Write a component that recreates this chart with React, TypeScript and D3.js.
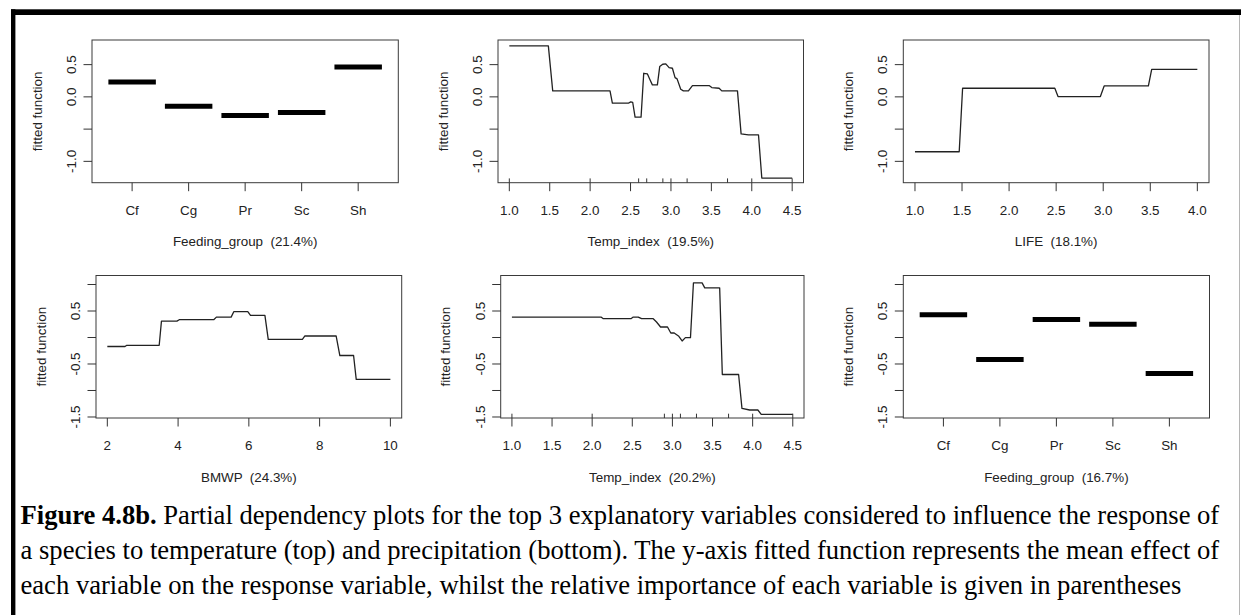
import React, { useLayoutEffect, useRef, useState } from 'react';
import * as d3 from 'd3';

// ---------- data ----------
const feedingGroups = ['Cf', 'Cg', 'Pr', 'Sc', 'Sh'];
const feedingTopValues = [0.232, -0.144, -0.289, -0.243, 0.464];
const feedingBottomValues = [0.43, -0.415, 0.342, 0.248, -0.68];

const tempTopX = [1.0, 1.483, 1.537, 2.246, 2.275, 2.473, 2.502, 2.527, 2.556, 2.63, 2.663, 2.709, 2.742, 2.77, 2.832, 2.861, 2.898, 2.936, 2.977, 3.018, 3.051, 3.076, 3.121, 3.154, 3.216, 3.266, 3.472, 3.505, 3.596, 3.629, 3.823, 3.868, 3.959, 4.083, 4.124, 4.5];
const tempTopY = [0.79, 0.79, 0.093, 0.093, -0.098, -0.098, -0.077, -0.087, -0.315, -0.315, 0.366, 0.356, 0.263, 0.186, 0.186, 0.47, 0.506, 0.511, 0.454, 0.444, 0.299, 0.279, 0.119, 0.093, 0.093, 0.175, 0.175, 0.144, 0.134, 0.093, 0.093, -0.573, -0.588, -0.588, -1.259, -1.259];
const tempTopRug = [1.0, 2.0, 2.6, 2.7, 2.9, 3.0, 3.2, 3.7, 4.0, 4.5];

const lifeX = [1.0, 1.47, 1.506, 2.486, 2.52, 2.97, 3.01, 3.48, 3.515, 4.0];
const lifeY = [-0.851, -0.851, 0.134, 0.134, 0.005, 0.005, 0.17, 0.17, 0.428, 0.428];

const bmwpX = [2.0, 2.5, 2.55, 3.466, 3.53, 3.967, 4.033, 5.007, 5.083, 5.499, 5.574, 5.97, 6.047, 6.454, 6.548, 7.513, 7.579, 8.468, 8.572, 8.96, 9.035, 10.0];
const bmwpY = [-0.17, -0.17, -0.147, -0.147, 0.31, 0.31, 0.336, 0.336, 0.385, 0.385, 0.487, 0.487, 0.417, 0.417, -0.034, -0.034, 0.028, 0.028, -0.34, -0.34, -0.79, -0.79];

const tempBottomX = [1.0, 2.11, 2.139, 2.483, 2.512, 2.574, 2.616, 2.761, 2.802, 2.83, 2.852, 2.939, 2.98, 3.022, 3.08, 3.121, 3.162, 3.225, 3.262, 3.37, 3.403, 3.589, 3.622, 3.825, 3.867, 3.962, 4.065, 4.107, 4.5];
const tempBottomY = [0.386, 0.386, 0.355, 0.355, 0.386, 0.386, 0.355, 0.355, 0.292, 0.24, 0.198, 0.198, 0.085, 0.085, 0.023, -0.065, -0.003, -0.003, 1.03, 1.03, 0.937, 0.937, -0.698, -0.698, -1.337, -1.368, -1.368, -1.45, -1.45];
const tempBottomRug = [1.0, 2.0, 2.9, 3.0, 3.1, 3.3, 3.7, 4.0, 4.5];

const topYTicks = [0.5, 0.0, -0.5, -1.0];
const topYLabels = ['0.5', '0.0', '', '-1.0'];
const bottomYTicks = [1.0, 0.5, 0.0, -0.5, -1.0, -1.5];
const bottomYLabels = ['', '0.5', '', '-0.5', '', '-1.5'];

const tempTicks = [1.0, 1.5, 2.0, 2.5, 3.0, 3.5, 4.0, 4.5];
const tempTickLabels = ['1.0', '1.5', '2.0', '2.5', '3.0', '3.5', '4.0', '4.5'];
const lifeTicks = [1.0, 1.5, 2.0, 2.5, 3.0, 3.5, 4.0];
const lifeTickLabels = ['1.0', '1.5', '2.0', '2.5', '3.0', '3.5', '4.0'];
const bmwpTicks = [2, 4, 6, 8, 10];
const bmwpTickLabels = ['2', '4', '6', '8', '10'];

const panelTitles = [
  'Feeding_group  (21.4%)',
  'Temp_index  (19.5%)',
  'LIFE  (18.1%)',
  'BMWP  (24.3%)',
  'Temp_index  (20.2%)',
  'Feeding_group  (16.7%)',
];

const yAxisTitle = 'fitted function';
const captionBold = 'Figure 4.8b.';
const captionLine1 = ' Partial dependency plots for the top 3 explanatory variables considered to influence the response of';
const captionLine2 = 'a species to temperature (top) and precipitation (bottom). The y-axis fitted function represents the mean effect of';
const captionLine3 = 'each variable on the response variable, whilst the relative importance of each variable is given in parentheses';

// ---------- layout ----------
const W = 1241;
const H = 615;
const FONT = '"Liberation Sans", Arial, Helvetica, sans-serif';
const FS = 13.4;
const TXT = '#222';

type Box = { x0: number; x1: number; y0: number; y1: number };

function Panel(props: {
  box: Box;
  xDomain: [number, number];
  yDomain: [number, number];
  xTicks: number[];
  xTickLabels: string[];
  yTicks: number[];
  yTickLabels: string[];
  title: string;
  lineX?: number[];
  lineY?: number[];
  rug?: number[];
  bars?: number[];
}) {
  const { box, xDomain, yDomain } = props;
  const xs = d3.scaleLinear().domain(xDomain).range([box.x0, box.x1]);
  const ys = d3.scaleLinear().domain(yDomain).range([box.y1, box.y0]);
  const tick = 8.5;
  let path: string | null = null;
  if (props.lineX && props.lineY) {
    const lx = props.lineX;
    const ly = props.lineY;
    const gen = d3
      .line<number>()
      .x((_, i) => xs(lx[i]))
      .y((_, i) => ys(ly[i]));
    path = gen(lx);
  }
  const cx = (box.x0 + box.x1) / 2;
  return (
    <g>
      <rect x={box.x0} y={box.y0} width={box.x1 - box.x0} height={box.y1 - box.y0} fill="none" stroke="#3a3a3a" strokeWidth={1} />
      {props.xTicks.map((t, i) => (
        <g key={'xt' + i}>
          <line x1={xs(t)} x2={xs(t)} y1={box.y1} y2={box.y1 + tick} stroke="#333" strokeWidth={1} />
          <text x={xs(t)} y={box.y1 + 32} textAnchor="middle" fontFamily={FONT} fontSize={FS} fill={TXT}>
            {props.xTickLabels[i]}
          </text>
        </g>
      ))}
      {props.yTicks.map((t, i) => (
        <g key={'yt' + i}>
          <line x1={box.x0 - tick} x2={box.x0} y1={ys(t)} y2={ys(t)} stroke="#333" strokeWidth={1} />
          {props.yTickLabels[i] ? (
            <text
              transform={`translate(${box.x0 - 16},${ys(t)}) rotate(-90)`}
              textAnchor="middle"
              fontFamily={FONT}
              fontSize={FS}
              fill={TXT}
            >
              {props.yTickLabels[i]}
            </text>
          ) : null}
        </g>
      ))}
      {(props.rug || []).map((r, i) => (
        <line key={'r' + i} x1={xs(r)} x2={xs(r)} y1={box.y1} y2={box.y1 - 4.3} stroke="#333" strokeWidth={1} />
      ))}
      {path ? <path d={path} fill="none" stroke="#222" strokeWidth={1.3} strokeLinejoin="round" /> : null}
      {(props.bars || []).map((v, i) => (
        <line key={'b' + i} x1={xs(i + 1 - 0.42)} x2={xs(i + 1 + 0.42)} y1={ys(v)} y2={ys(v)} stroke="#000" strokeWidth={5} />
      ))}
      <text x={cx} y={box.y1 + 63.5} textAnchor="middle" fontFamily={FONT} fontSize={FS} fill={TXT} style={{ whiteSpace: 'pre' }}>
        {props.title}
      </text>
      <text
        transform={`translate(${box.x0 - 50.5},${(box.y0 + box.y1) / 2}) rotate(-90)`}
        textAnchor="middle"
        fontFamily={FONT}
        fontSize={FS}
        fill={TXT}
      >
        {yAxisTitle}
      </text>
    </g>
  );
}

const topY: [number, number] = [-1.331, 0.882];
const botY: [number, number] = [-1.519, 1.17];
const catDomain: [number, number] = [0.29, 5.71];

export default function App() {
  const l1 = useRef<SVGTextElement>(null);
  const l2 = useRef<SVGTextElement>(null);
  const l3 = useRef<SVGTextElement>(null);
  const [cap, setCap] = useState<{ s: number; ws: [number, number] }>({ s: 1, ws: [0, 0] });
  const capX = 20.5;
  const capRight = 1219.5;
  const line3Right = 1181.5;
  useLayoutEffect(() => {
    const e3 = l3.current;
    if (!e3) return;
    const len3 = e3.getComputedTextLength();
    const s = len3 > 0 ? (line3Right - capX) / len3 : 1;
    const target = (capRight - capX) / s;
    const ws: [number, number] = [0, 0];
    [l1, l2].forEach((r, k) => {
      const el = r.current;
      if (!el) return;
      const len = el.getComputedTextLength();
      const txt = el.textContent || '';
      const spaces = (txt.match(/ /g) || []).length;
      ws[k] = spaces ? (target - len) / spaces : 0;
    });
    setCap({ s, ws });
  }, []);

  const serif = '"Liberation Serif", "Times New Roman", Times, serif';
  const capFS = 22;
  const baselines = [524, 559, 593.5];

  return (
    <svg width={W} height={H} style={{ position: 'absolute', left: 0, top: 0, background: '#fff' }}>
      <rect x={0} y={0} width={W} height={H} fill="#fff" />
      {/* frame */}
      <rect x={11} y={9.3} width={W - 11} height={5.7} fill="#000" />
      <rect x={11} y={9.3} width={4.4} height={H - 9.3} fill="#000" />
      <line x1={1239.5} x2={1239.5} y1={15} y2={H} stroke="#b5b5b5" strokeWidth={1} />

      <Panel
        box={{ x0: 92, x1: 398.3, y0: 40, y1: 182.7 }}
        xDomain={catDomain}
        yDomain={topY}
        xTicks={[1, 2, 3, 4, 5]}
        xTickLabels={feedingGroups}
        yTicks={topYTicks}
        yTickLabels={topYLabels}
        title={panelTitles[0]}
        bars={feedingTopValues}
      />
      <Panel
        box={{ x0: 498, x1: 803.5, y0: 40, y1: 182.7 }}
        xDomain={[0.86, 4.64]}
        yDomain={topY}
        xTicks={tempTicks}
        xTickLabels={tempTickLabels}
        yTicks={topYTicks}
        yTickLabels={topYLabels}
        title={panelTitles[1]}
        lineX={tempTopX}
        lineY={tempTopY}
        rug={tempTopRug}
      />
      <Panel
        box={{ x0: 903.3, x1: 1209, y0: 40, y1: 182.7 }}
        xDomain={[0.876, 4.124]}
        yDomain={topY}
        xTicks={lifeTicks}
        xTickLabels={lifeTickLabels}
        yTicks={topYTicks}
        yTickLabels={topYLabels}
        title={panelTitles[2]}
        lineX={lifeX}
        lineY={lifeY}
      />
      <Panel
        box={{ x0: 96, x1: 401.7, y0: 275.5, y1: 418 }}
        xDomain={[1.68, 10.32]}
        yDomain={botY}
        xTicks={bmwpTicks}
        xTickLabels={bmwpTickLabels}
        yTicks={bottomYTicks}
        yTickLabels={bottomYLabels}
        title={panelTitles[3]}
        lineX={bmwpX}
        lineY={bmwpY}
      />
      <Panel
        box={{ x0: 500.7, x1: 804, y0: 275.5, y1: 418 }}
        xDomain={[0.86, 4.64]}
        yDomain={botY}
        xTicks={tempTicks}
        xTickLabels={tempTickLabels}
        yTicks={bottomYTicks}
        yTickLabels={bottomYLabels}
        title={panelTitles[4]}
        lineX={tempBottomX}
        lineY={tempBottomY}
        rug={tempBottomRug}
      />
      <Panel
        box={{ x0: 903.3, x1: 1209.5, y0: 275.5, y1: 418 }}
        xDomain={catDomain}
        yDomain={botY}
        xTicks={[1, 2, 3, 4, 5]}
        xTickLabels={feedingGroups}
        yTicks={bottomYTicks}
        yTickLabels={bottomYLabels}
        title={panelTitles[5]}
        bars={feedingBottomValues}
      />

      {/* caption */}
      <g transform={`translate(${capX},${baselines[0]}) scale(${cap.s})`}>
        <text ref={l1} x={0} y={0} fontFamily={serif} fontSize={capFS} fill="#000" style={{ whiteSpace: 'pre', wordSpacing: cap.ws[0] + 'px' }}>
          <tspan fontWeight="bold">{captionBold}</tspan>
          <tspan>{captionLine1}</tspan>
        </text>
      </g>
      <g transform={`translate(${capX},${baselines[1]}) scale(${cap.s})`}>
        <text ref={l2} x={0} y={0} fontFamily={serif} fontSize={capFS} fill="#000" style={{ whiteSpace: 'pre', wordSpacing: cap.ws[1] + 'px' }}>
          {captionLine2}
        </text>
      </g>
      <g transform={`translate(${capX},${baselines[2]}) scale(${cap.s})`}>
        <text ref={l3} x={0} y={0} fontFamily={serif} fontSize={capFS} fill="#000" style={{ whiteSpace: 'pre' }}>
          {captionLine3}
        </text>
      </g>
    </svg>
  );
}
